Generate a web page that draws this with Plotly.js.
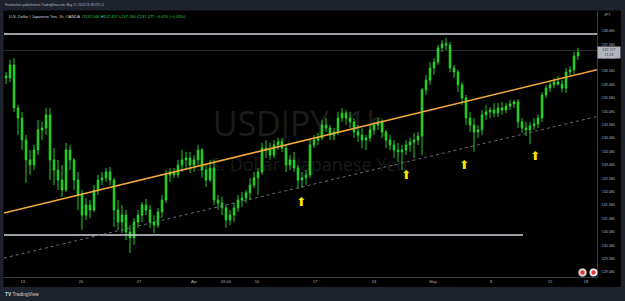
<!DOCTYPE html>
<html><head><meta charset="utf-8">
<script src="https://cdn.plot.ly/plotly-3.0.1.min.js"></script>
<style>html,body{margin:0;padding:0;background:#000;overflow:hidden}#chart{width:625px;height:301px}</style>
</head><body><div id="chart"></div>
<script>
// USD/JPY, 1h (each candle here ~8 hourly bars)
const openP = [
136.40,136.33,136.81,135.21,134.83,134.01,133.27,133.08,133.64,134.39,
134.46,134.95,133.27,132.89,132.52,132.15,133.64,133.27,132.52,131.96,
131.21,131.59,131.40,132.15,132.52,132.60,132.82,132.52,131.40,130.95,
131.21,130.58,130.36,130.95,131.21,131.59,131.40,130.95,130.84,131.33,
131.77,132.71,132.82,132.71,133.08,133.27,133.34,133.08,133.27,133.64,
132.89,132.52,132.97,131.77,131.66,131.48,131.03,131.21,131.48,131.77,
131.85,132.04,132.33,132.60,132.82,133.71,133.64,133.45,133.83,133.94,
133.71,133.08,133.27,132.97,132.52,132.60,132.71,133.83,134.01,134.09,
134.57,134.46,134.20,134.31,134.83,135.02,134.83,134.69,134.31,134.20,
134.01,134.09,134.39,134.57,134.69,134.31,134.01,133.83,133.64,133.57,
133.64,133.83,133.94,134.01,134.16,135.88,136.25,136.70,136.92,137.45,
137.60,137.56,136.70,136.55,136.07,135.58,134.83,134.57,134.31,134.39,
134.95,135.06,135.13,135.02,135.21,135.13,135.28,135.36,135.43,134.69,
134.46,134.39,134.54,134.61,134.83,135.69,135.95,136.07,136.18,136.10,
135.95,136.55,136.63,137.15];
const highP = [
136.55,137.00,137.07,135.32,135.06,134.20,133.64,133.83,134.76,134.69,
135.21,135.21,133.71,133.27,133.08,133.90,133.83,133.34,132.82,132.15,
131.85,131.77,132.33,132.71,132.82,132.97,133.01,132.60,131.77,131.59,
131.40,130.84,131.10,131.40,131.70,131.81,131.59,131.21,131.48,131.96,
132.89,132.97,132.97,133.27,133.64,133.57,133.57,133.45,133.83,133.71,
133.08,133.27,133.27,131.96,131.89,131.59,131.40,131.66,131.96,132.07,
132.15,132.60,132.82,132.97,133.90,134.01,133.90,134.01,134.09,134.09,
133.83,133.45,133.57,133.08,132.82,132.89,134.01,134.20,134.27,134.76,
134.83,134.57,134.46,135.06,135.21,135.13,135.06,134.83,134.57,134.46,
134.20,134.57,134.69,134.83,134.76,134.39,134.20,134.01,133.90,133.83,
134.01,134.09,134.27,134.31,135.95,136.44,136.92,137.07,137.56,137.74,
137.82,137.67,136.81,136.63,136.18,135.69,135.06,134.83,134.57,135.13,
135.32,135.24,135.39,135.39,135.43,135.39,135.51,135.51,135.54,134.83,
134.69,134.69,134.83,134.95,135.80,136.07,136.18,136.33,136.40,136.25,
136.70,136.77,137.30,137.457];
const lowP = [
136.10,136.18,135.06,134.20,133.64,132.41,132.71,132.89,133.45,134.01,
134.20,132.52,132.33,132.15,131.89,132.07,132.89,132.15,131.40,130.66,
131.03,131.10,131.33,131.96,132.33,132.45,132.33,130.77,130.66,130.54,
130.28,129.80,130.10,130.73,130.95,131.21,130.73,130.54,130.73,131.10,
131.66,132.45,132.60,132.60,132.82,132.89,132.78,132.82,133.08,132.60,
132.26,132.45,131.59,131.40,131.21,130.73,130.84,130.95,131.33,131.51,
131.66,131.77,132.22,131.96,132.71,133.34,133.27,133.34,133.64,133.57,
132.82,132.89,132.82,132.18,132.22,132.33,132.60,133.71,133.83,134.01,
134.31,134.01,134.01,134.20,134.69,134.57,134.46,134.09,133.94,133.71,
133.64,133.94,134.20,134.39,134.09,133.71,133.64,133.34,133.19,132.89,
133.45,133.57,133.34,133.83,133.45,135.69,136.07,136.44,136.81,137.30,
137.37,136.55,136.33,135.80,135.32,134.57,134.31,133.57,134.09,134.20,
134.76,134.83,134.87,134.87,134.95,135.02,135.13,135.21,134.46,134.27,
134.16,133.86,134.39,134.46,134.69,135.58,135.80,135.95,136.03,135.80,
135.77,136.40,136.48,137.00];
const closeP = [
136.33,136.81,135.21,134.83,134.01,133.27,133.08,133.64,134.39,134.46,
134.95,133.27,132.89,132.52,132.15,133.64,133.27,132.52,131.96,131.21,
131.59,131.40,132.15,132.52,132.60,132.82,132.52,131.40,130.95,131.21,
130.58,130.36,130.95,131.21,131.59,131.40,130.95,130.84,131.33,131.77,
132.71,132.82,132.71,133.08,133.27,133.34,133.08,133.27,133.64,132.89,
132.52,132.97,131.77,131.66,131.48,131.03,131.21,131.48,131.77,131.85,
132.04,132.33,132.60,132.82,133.71,133.64,133.45,133.83,133.94,133.71,
133.08,133.27,132.97,132.52,132.60,132.71,133.83,134.01,134.09,134.57,
134.46,134.20,134.31,134.83,135.02,134.83,134.69,134.31,134.20,134.01,
134.09,134.39,134.57,134.69,134.31,134.01,133.83,133.64,133.57,133.64,
133.83,133.94,134.01,134.16,135.88,136.25,136.70,136.92,137.45,137.60,
137.56,136.70,136.55,136.07,135.58,134.83,134.57,134.31,134.39,134.95,
135.06,135.13,135.02,135.21,135.13,135.28,135.36,135.43,134.69,134.46,
134.39,134.54,134.61,134.83,135.69,135.95,136.07,136.18,136.10,135.95,
136.55,136.63,137.15,137.277];

const dateTickPos  = [4.2, 18.75, 33.25, 47, 55, 62.75, 77.25, 92, 106.75, 121.25, 136, 145];
const dateTickText = ['13','20','27','Apr','09:00','10','17','24','May','8','15','18'];
const priceTicks = [129.08,129.58,130.08,130.58,131.08,131.58,132.08,132.58,133.08,133.58,
                    134.08,134.58,135.08,135.58,136.08,136.58,137.08,137.58,138.08];

// drawings
const resistanceX = [-0.5, 147.75], resistanceY = [137.97, 137.97];
const supportX    = [-0.5, 129.25], supportY    = [130.47, 130.47];
const upperTrendX = [-0.5, 147.75], upperTrendY = [131.29, 136.63];
const lowerTrendX = [-0.5, 147.75], lowerTrendY = [129.61, 134.89];
const arrowX = [73.75, 100, 114.5, 132.25];
const arrowY = [131.66, 132.67, 133.04, 133.38];
const lastPrice = 137.277;
const priceLineLevel = 137.35;

const idx = openP.map((_, i) => i);
const green = '#22e022';

const traces = [
  {type:'candlestick', x: idx, open: openP, high: highP, low: lowP, close: closeP,
   increasing:{line:{color:green, width:0.9}, fillcolor:green},
   decreasing:{line:{color:green, width:0.9}, fillcolor:green},
   whiskerwidth:0, hoverinfo:'skip'},
  {type:'scatter', mode:'lines', x: supportX, y: supportY, line:{color:'#d1d4dc', width:1.5}, hoverinfo:'skip'},
  {type:'scatter', mode:'lines', x: resistanceX, y: resistanceY, line:{color:'#d1d4dc', width:1.5}, hoverinfo:'skip'},
  {type:'scatter', mode:'lines', x: lowerTrendX, y: lowerTrendY, line:{color:'#6a6d78', width:1, dash:'dot'}, hoverinfo:'skip'},
  {type:'scatter', mode:'lines', x: upperTrendX, y: upperTrendY, line:{color:'#f2a93b', width:1.5}, hoverinfo:'skip'},
  {type:'scatter', mode:'text', x: arrowX, y: arrowY, text: arrowX.map(() => '⬆'),
   textposition:'middle center', textfont:{family:'DejaVu Sans', size:12, color:'#ffe600'}, hoverinfo:'skip'}
];

const W = 593, H = 266; // plot area size
const px = v => (v - 4) / W;          // page x -> paper
const py = v => (277 - v) / H;        // page y -> paper
const dark = '#1e222d';

const layout = {
  width:625, height:301,
  margin:{l:4, r:28, t:11, b:24, pad:0},
  paper_bgcolor:'#000', plot_bgcolor:'#000',
  showlegend:false, boxgap:0.45,
  xaxis:{range:[-0.5,147.75], tickvals:dateTickPos, ticktext:dateTickText,
         showgrid:false, zeroline:false, showline:true, linecolor:'#363a45', linewidth:1,
         ticks:'', tickfont:{family:'Liberation Sans', size:4, color:'#b2b5be'},
         rangeslider:{visible:false}, fixedrange:true},
  yaxis:{range:[128.90,138.826], side:'right', tickvals:priceTicks,
         ticktext:priceTicks.map(v => v.toFixed(3)),
         showgrid:false, zeroline:false, showline:true, linecolor:'#363a45', linewidth:1,
         ticks:'', ticklabelstandoff:3, tickfont:{family:'Liberation Sans', size:3.6, color:'#b2b5be'}, fixedrange:true},
  shapes:[
    {type:'rect', xref:'paper', yref:'paper', x0:px(0), x1:px(640), y0:py(10.5), y1:py(-2), fillcolor:dark, line:{width:0}},
    {type:'rect', xref:'paper', yref:'paper', x0:px(0), x1:px(640), y0:py(303), y1:py(287), fillcolor:dark, line:{width:0}},
    {type:'rect', xref:'paper', yref:'paper', x0:px(-1), x1:px(3.5), y0:py(303), y1:py(-2), fillcolor:dark, line:{width:0}},
    {type:'rect', xref:'paper', yref:'paper', x0:px(621), x1:px(630), y0:py(303), y1:py(-2), fillcolor:dark, line:{width:0}},
    {type:'line', xref:'paper', yref:'y', x0:0, x1:1, y0:priceLineLevel, y1:priceLineLevel, line:{color:'#2a2e39', width:1}, layer:'below'},
    {type:'rect', xref:'paper', yref:'paper', x0:px(150), x1:px(450), y0:py(145), y1:py(105), line:{width:0}, fillcolor:'rgba(0,0,0,0)', layer:'below',
     label:{text:'USDJPY, 1h', textposition:'middle center', font:{family:'Open Sans', size:34, color:'#1b1b1b'}}},
    {type:'rect', xref:'paper', yref:'paper', x0:px(150), x1:px(450), y0:py(175), y1:py(155), line:{width:0}, fillcolor:'rgba(0,0,0,0)', layer:'below',
     label:{text:'U.S. Dollar / Japanese Yen', textposition:'middle center', font:{family:'Open Sans', size:18, color:'#1b1b1b'}}},
    {type:'circle', xref:'paper', yref:'paper', xsizemode:'pixel', ysizemode:'pixel', xanchor:px(582.5), yanchor:py(272.5),
     x0:-4, x1:4, y0:-4, y1:4, fillcolor:'#e6e6e6', line:{color:'#8a8d96', width:0.8}},
    {type:'circle', xref:'paper', yref:'paper', xsizemode:'pixel', ysizemode:'pixel', xanchor:px(582.5), yanchor:py(272.5),
     x0:-2.2, x1:2.2, y0:-2.2, y1:2.2, fillcolor:'#e53935', line:{width:0}},
    {type:'circle', xref:'paper', yref:'paper', xsizemode:'pixel', ysizemode:'pixel', xanchor:px(593.5), yanchor:py(272.5),
     x0:-4, x1:4, y0:-4, y1:4, fillcolor:'#f0f0f0', line:{width:0}},
    {type:'circle', xref:'paper', yref:'paper', xsizemode:'pixel', ysizemode:'pixel', xanchor:px(593.5), yanchor:py(272.5),
     x0:-2.2, x1:2.2, y0:-2.2, y1:2.2, fillcolor:'#e53935', line:{width:0}}
  ],
  annotations:[
    {xref:'paper', yref:'paper', x:px(3), y:py(5), xanchor:'left', yanchor:'middle', showarrow:false,
     text:'Finnmarkets published on TradingView.com, May 17, 2023 16:38 UTC-4',
     font:{family:'Liberation Sans', size:3.1, color:'#b2b5be'}},
    {xref:'paper', yref:'paper', x:px(7), y:py(16), xanchor:'left', yanchor:'middle', showarrow:false,
     text:'<span style="color:#d1d4dc">U.S. Dollar / Japanese Yen, 1h, OANDA</span>  ' +
          '<span style="color:#b2b5be">O</span><span style="color:#2ecc40">137.346</span> ' +
          '<span style="color:#b2b5be">H</span><span style="color:#2ecc40">137.457</span> ' +
          '<span style="color:#b2b5be">L</span><span style="color:#2ecc40">137.260</span> ' +
          '<span style="color:#b2b5be">C</span><span style="color:#2ecc40">137.277 −0.070 (−0.05%)</span>',
     font:{family:'Liberation Sans', size:4, color:'#d1d4dc'}},
    {xref:'paper', yref:'paper', x:px(602), y:py(15), xanchor:'left', yanchor:'middle', showarrow:false,
     text:'JPY', font:{family:'Liberation Sans', size:3.6, color:'#b2b5be'}},
    {xref:'paper', yref:'y', x:px(609), y:lastPrice, xanchor:'center', yanchor:'middle', showarrow:false,
     text:'137.277<br>21:23', bgcolor:'#b2b5be', borderpad:1, width:20, align:'center',
     font:{family:'Liberation Sans', size:3.6, color:'#2a2e39'}},
    {xref:'paper', yref:'paper', x:px(3), y:py(294), xanchor:'left', yanchor:'middle', showarrow:false,
     text:'<b>TV</b> TradingView', font:{family:'Liberation Sans', size:4.8, color:'#d1d4dc'}}
  ]
};

Plotly.newPlot('chart', traces, layout, {staticPlot:true, displayModeBar:false});
</script>
</body></html>
